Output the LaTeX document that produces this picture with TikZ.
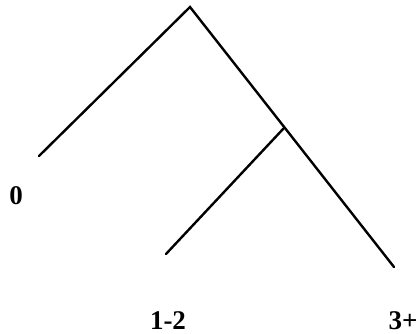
\documentclass[tikz,border=0pt]{standalone}
\usepackage{fontspec}
\setmainfont{Liberation Serif}
\begin{document}
\begin{tikzpicture}[x=1pt,y=-1pt,
  edge/.style={line width=2.4pt,line cap=round},
  lbl/.style={inner sep=0pt,font=\fontsize{27}{30}\selectfont\bfseries,anchor=north}]
\useasboundingbox (0,0) rectangle (420,334);
\coordinate (root) at (190,7);
\coordinate (a) at (39,156);
\coordinate (mid) at (284,128);
\coordinate (b) at (166,254);
\coordinate (c) at (394,267);
\draw[edge] (a) -- (root) -- (c);
\draw[edge] (mid) -- (b);
\node[lbl] (l0) at (16,186) {0};
\node[lbl] (l12) at (168,311) {1-2};
\node[lbl] (l3) at (403,311) {3+};
\end{tikzpicture}
\end{document}
